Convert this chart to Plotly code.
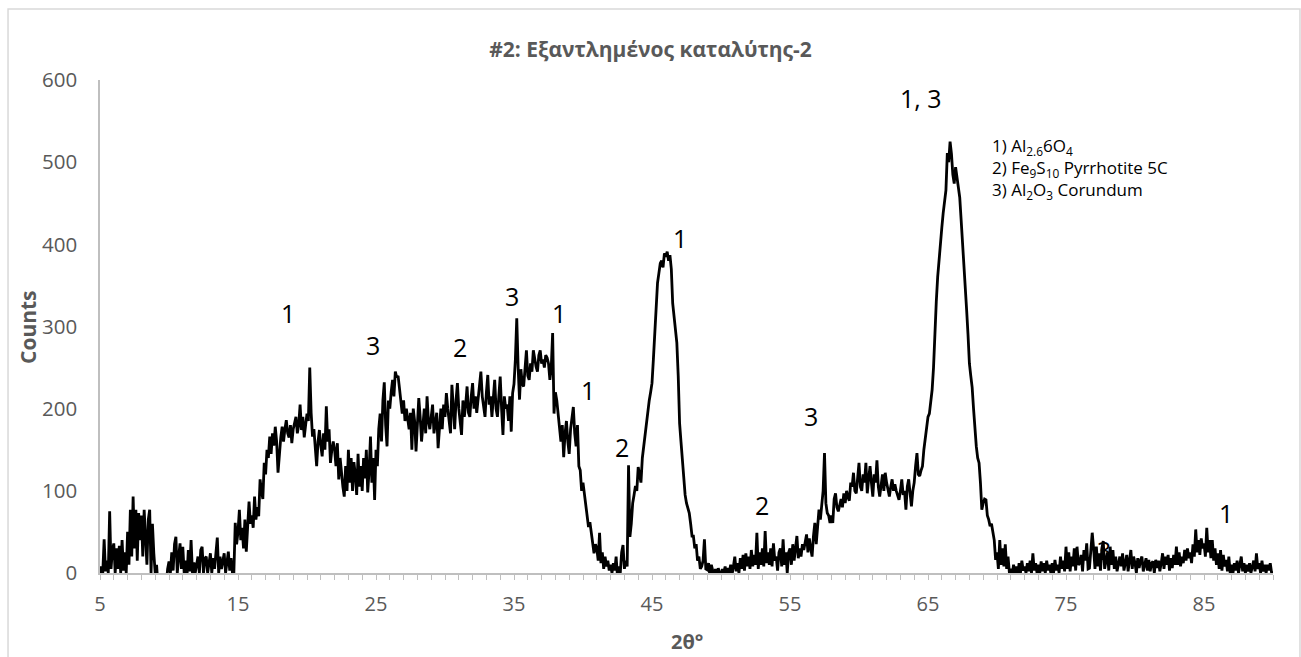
import numpy as np
import plotly.graph_objects as go

# ---------------- data ----------------
two_theta_start = 5.0
two_theta_step = 0.1

counts_05_14 = [
    0, 8, 0, 41, 2, 15, 0, 75, 5, 28,
    36, 0, 30, 5, 33, 0, 40, 3, 25, 0,
    50, 10, 77, 20, 93, 30, 77, 15, 73, 40,
    70, 20, 77, 45, 10, 65, 77, 0, 60, 24,
    0, 10, -15, -15, -15, -15, -15, -15, -15, 5,
    14, 0, 25, 3, 35, 44, 0, 20, 36, 5,
    32, 0, 15, -5, 28, 2, 40, 0, 13, 0,
    13, 20, 0, 28, 32, 0, 18, 20, 0, 15,
    24, 0, 18, 5, 26, 43, 0, 20, 5, 15,
    24, 0, 15, 26, 3, 18, 0, 0, 61, 35,
]
counts_15_24 = [
    50, 77, 40, 55, 30, 65, 26, 50, 87, 60,
    70, 55, 93, 65, 80, 69, 114, 100, 90, 134,
    120, 150, 140, 166, 145, 170, 155, 178, 160, 122,
    150, 165, 178, 160, 175, 186, 170, 165, 180, 158,
    175, 185, 190, 170, 180, 205, 174, 190, 165, 180,
    194, 185, 250, 195, 166, 175, 150, 130, 160, 174,
    155, 142, 170, 150, 203, 160, 175, 134, 150, 160,
    150, 130, 158, 114, 140, 120, 105, 93, 130, 100,
    150, 110, 140, 100, 135, 120, 95, 145, 105, 130,
    100, 140, 115, 150, 98, 125, 166, 110, 140, 89,
]
counts_25_34 = [
    150, 130, 175, 194, 160, 210, 232, 180, 154, 210,
    200, 220, 235, 215, 245, 238, 240, 225, 205, 194,
    210, 185, 200, 190, 175, 195, 150, 200, 185, 148,
    175, 213, 190, 160, 180, 200, 170, 215, 185, 175,
    190, 205, 170, 185, 195, 152, 180, 200, 175, 205,
    190, 219, 200, 185, 170, 229, 195, 175, 210, 231,
    200, 185, 168, 210, 190, 205, 227, 195, 190, 215,
    231, 200, 215, 195, 210, 225, 245, 215, 200, 190,
    220, 241, 205, 215, 190, 210, 235, 200, 190, 215,
    239, 200, 168, 215, 200, 205, 185, 215, 172, 219,
]
counts_35_44 = [
    230, 260, 310, 250, 211, 248, 230, 227, 245, 271,
    240, 235, 255, 245, 271, 260, 251, 245, 265, 271,
    255, 260, 250, 265, 262, 255, 235, 250, 292, 194,
    220, 210, 190, 175, 160, 180, 141, 170, 185, 160,
    145, 175, 190, 202, 170, 154, 180, 130, 125, 100,
    110, 95, 85, 70, 56, 62, 49, 38, 24, 35,
    30, 15, 49, 12, 25, 5, 20, 8, 15, 3,
    10, 0, 12, 3, 20, -5, 8, 0, 25, 34,
    5, 15, 8, 131, 44, 60, 85, 95, 106, 100,
    129, 120, 110, 140, 155, 170, 185, 202, 210, 220,
]
counts_45_54 = [
    231, 260, 292, 320, 353, 365, 377, 380, 372, 389,
    385, 391, 380, 387, 370, 328, 310, 295, 280, 240,
    182, 160, 137, 110, 95, 85, 78, 73, 60, 45,
    45, 30, 35, 15, 20, 5, 8, 15, 41, 5,
    4, 12, -5, 10, 3, -8, 5, -10, 6, 0,
    -5, 5, 0, 8, -3, 6, 0, 10, -2, 8,
    20, 2, 12, 0, 18, 5, 22, 3, 24, 8,
    20, 5, 28, 8, 22, 10, 49, 5, 25, 10,
    30, 8, 51, 12, 25, 10, 30, 8, 36, 15,
    20, 3, 25, 30, 8, 41, 10, 25, 0, 25,
]
counts_55_64 = [
    30, 10, 35, 15, 28, 45, 18, 30, 20, 35,
    28, 40, 47, 25, 42, 30, 20, 45, 61, 35,
    53, 77, 65, 80, 100, 146, 85, 73, 70, 61,
    70, 61, 90, 97, 80, 75, 85, 90, 80, 97,
    85, 100, 92, 88, 110, 105, 122, 100, 97, 115,
    134, 105, 100, 120, 110, 134, 97, 115, 130, 110,
    93, 120, 110, 137, 105, 93, 110, 120, 100, 122,
    110, 100, 93, 105, 114, 100, 108, 100, 95, 89,
    100, 114, 95, 100, 77, 105, 114, 95, 81, 100,
    110, 130, 146, 120, 118, 125, 130, 150, 162, 180,
]
counts_65_74 = [
    190, 194, 210, 223, 250, 299, 330, 360, 377, 400,
    420, 438, 450, 466, 511, 500, 525, 510, 485, 474,
    494, 480, 470, 457, 430, 405, 370, 345, 320, 290,
    255, 240, 226, 200, 170, 154, 140, 134, 110, 77,
    85, 90, 89, 70, 65, 57, 60, 50, 40, 16,
    25, 5, 40, 10, 30, 8, 35, 5, 20, 0,
    5, -3, 10, 0, 8, -3, 12, 0, 15, 3,
    8, 0, 12, 2, 15, 0, 24, 3, 12, 0,
    10, 0, 14, 2, 12, 0, 15, 3, 10, 0,
    12, 0, 16, 3, 10, 0, 20, 5, 15, 2,
]
counts_75_90 = [
    32, 5, 25, 2, 20, 8, 30, 3, 32, 10,
    12, 22, 2, 28, 15, 36, 5, 6, 25, 49,
    30, 5, 32, 8, 24, 3, 30, 39, 5, 16,
    25, 3, 32, 10, 28, 5, 20, 2, 12, 20,
    8, 24, 3, 16, 22, 2, 18, 28, 5, 20,
    12, 0, 18, 6, 15, 20, 2, 12, 18, 3,
    16, 2, 12, 14, 0, 16, 6, 15, 2, 12,
    24, 5, 20, 10, 22, 3, 18, 6, 22, 10,
    32, 10, 25, 8, 20, 12, 28, 15, 30, 18,
    25, 12, 35, 20, 53, 25, 40, 22, 42, 30,
    36, 20, 55, 25, 40, 18, 40, 15, 30, 10,
    24, 5, 28, 3, 22, 8, 16, 2, 20, 0,
    10, 0, 12, 3, 15, 0, 8, 20, 2, 12,
    0, 10, 2, 12, 0, 8, 15, 2, 24, 5,
    12, 0, 15, 2, 10, 0, 10, 3, 12, 0,
    2,
]

x_tick_values = [5, 15, 25, 35, 45, 55, 65, 75, 85]
y_tick_values = [0, 100, 200, 300, 400, 500, 600]

peak_labels = ["1", "3", "2", "3", "1", "1", "1", "2", "2", "3", "1, 3", "3", "1"]
peak_label_x = [18.6, 24.78, 31.09, 34.86, 38.26, 40.36, 47.03, 42.83, 52.97, 56.52, 64.49, 77.75, 86.6]
peak_label_y = [317, 277, 275, 337, 317, 223, 408, 153, 83, 191, 578, 28, 73]

phase_lines = [
    "1) Al<sub>2.6</sub>6O<sub>4</sub>",
    "2) Fe<sub>9</sub>S<sub>10</sub> Pyrrhotite 5C",
    "3) Al<sub>2</sub>O<sub>3</sub> Corundum",
]
phase_x = 69.5
phase_y_mid = 492

title_text = "#2: Εξαντλημένος καταλύτης-2"
x_title = "2θ°"
y_title = "Counts"

# ---------------- figure ----------------
counts = np.array(counts_05_14 + counts_15_24 + counts_25_34 + counts_35_44 +
                  counts_45_54 + counts_55_64 + counts_65_74 + counts_75_90, dtype=float)
two_theta = np.round(two_theta_start + two_theta_step * np.arange(len(counts)), 2)

FONT = "Open Sans"
GRAY = "#595959"

fig = go.Figure()
fig.add_trace(go.Scatter(
    x=two_theta, y=counts, mode="lines",
    line=dict(color="black", width=2.8),
    hoverinfo="skip", showlegend=False,
))

for t, xx, yy in zip(peak_labels, peak_label_x, peak_label_y):
    fig.add_annotation(x=xx, y=yy, text=t, showarrow=False,
                       font=dict(family=FONT, size=25, color="black"),
                       xanchor="center", yanchor="middle")

fig.add_annotation(x=phase_x, y=phase_y_mid, text="<br>".join(phase_lines), showarrow=False,
                   align="left", font=dict(family=FONT, size=17, color="black"),
                   xanchor="left", yanchor="middle")

# axis titles
fig.add_annotation(xref="paper", yref="paper", x=(28 - 100) / 1173, y=(573 - 327) / 493,
                   text="<b>" + y_title + "</b>",
                   textangle=-90, showarrow=False, xanchor="center", yanchor="middle",
                   font=dict(family=FONT, size=21, color=GRAY))
fig.add_annotation(xref="paper", yref="paper", x=0.5, y=(573 - 641) / 493,
                   text="<b>" + x_title + "</b>",
                   showarrow=False, xanchor="center", yanchor="middle",
                   font=dict(family=FONT, size=20, color=GRAY))

# chart frame
fig.add_shape(type="rect", xref="paper", yref="paper",
              x0=-0.0784, x1=1.023, y0=-0.2, y1=1.144,
              line=dict(color="#d9d9d9", width=1.5), fillcolor="rgba(0,0,0,0)",
              layer="below")

fig.update_layout(
    width=1301, height=657,
    margin=dict(l=100, r=28, t=80, b=84),
    paper_bgcolor="white", plot_bgcolor="white",
    font=dict(family=FONT, color=GRAY),
    title=dict(text="<b>" + title_text + "</b>", x=0.5, xref="container", xanchor="center",
               y=1 - 50 / 657, yanchor="middle",
               font=dict(family=FONT, size=21, color=GRAY)),
)
fig.update_xaxes(
    range=[5, 90], showgrid=False, zeroline=False,
    showline=True, linecolor="#bfbfbf", linewidth=1.5,
    tickmode="array", tickvals=x_tick_values,
    ticks="outside", ticklen=5, tickcolor="#bfbfbf", tickwidth=1,
    minor=dict(dtick=1, tick0=5, ticks="outside", ticklen=5, tickcolor="#bfbfbf", tickwidth=1),
    tickfont=dict(family=FONT, size=20, color=GRAY),
    ticklabelstandoff=7,
)
fig.update_yaxes(
    range=[0, 600], showgrid=False, zeroline=False,
    showline=True, linecolor="#bfbfbf", linewidth=1.5,
    tickmode="array", tickvals=y_tick_values, ticks="",
    tickfont=dict(family=FONT, size=20.5, color=GRAY),
    ticklabelstandoff=17,
)

fig.write_html("out.html")
